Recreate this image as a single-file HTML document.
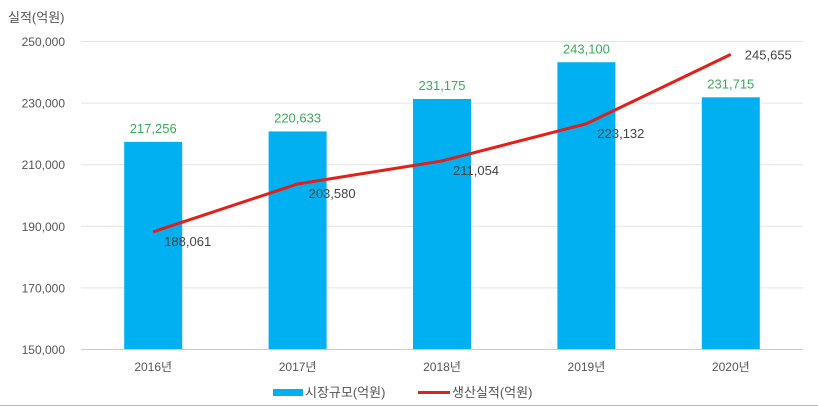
<!DOCTYPE html>
<html><head><meta charset="utf-8"><style>
body{margin:0;background:#fff;}
svg{display:block;font-family:"Liberation Sans","Noto Sans CJK KR",sans-serif;}
</style></head><body>
<svg width="818" height="407">
<rect x="0" y="0" width="818" height="407" fill="#fff"/>
<line x1="0" y1="405.5" x2="818" y2="405.5" stroke="#bbb"/>
<text x="8" y="22" font-size="13" fill="#555">실적(억원)</text>
<g id="grid"></g><g id="bars"></g><g id="line"></g><g id="labels"></g>
<g>
<rect x="273" y="389" width="30" height="7" fill="#00b0f0"/>
<text x="305" y="397" font-size="13" fill="#555">시장규모(억원)</text>
<line x1="418" y1="392.5" x2="450" y2="392.5" stroke="#e0201b" stroke-width="3"/>
<text x="452" y="397" font-size="13" fill="#555">생산실적(억원)</text>
</g>
</svg>
<script>
const categories=["2016년","2017년","2018년","2019년","2020년"];
const marketValues=[217256,220633,231175,243100,231715];
const productionValues=[188061,203580,211054,223132,245655];
const yTicks=[150000,170000,190000,210000,230000,250000];
const NS="http://www.w3.org/2000/svg";
const x0=81,x1=803,yB=349,yT=41,vmin=150000,vmax=250000;
const y=v=>yB-(v-vmin)/(vmax-vmin)*(yB-yT);
const step=(x1-x0)/categories.length;
const xc=i=>x0+step*(i+0.5);
const fmt=v=>v.toLocaleString("en-US");
function mk(p,tag,attrs,txt){const e=document.createElementNS(NS,tag);for(const k in attrs)e.setAttribute(k,attrs[k]);if(txt!=null)e.textContent=txt;document.getElementById(p).appendChild(e);return e;}
yTicks.forEach(t=>{
 const l=mk("grid","line",{x1:x0,x2:x1,y1:y(t)+0.5,y2:y(t)+0.5,stroke:t===vmin?"#ccc":"#e3e3e3"});
 
 
 const tx=mk("grid","text",{x:65,y:y(t)+5,"text-anchor":"end","font-size":"12",fill:"#555"},fmt(t));
 
 
});
categories.forEach((c,i)=>{
 const tx=mk("grid","text",{x:xc(i),y:371,"text-anchor":"middle","font-size":"12",fill:"#555"},c);
 
 
 const b=mk("bars","rect",{x:xc(i)-29,y:y(marketValues[i]),width:58,height:yB-y(marketValues[i]),fill:"#00b0f0"});
 
 
 const bl=mk("labels","text",{x:xc(i),y:y(marketValues[i])-9,"text-anchor":"middle","font-size":"13",fill:"#3aaa5c"},fmt(marketValues[i]));
 
 
 const last=i===categories.length-1;
 const pl=mk("labels","text",{x:xc(i)+(last?14:11),y:y(productionValues[i])+(last?5:14),"font-size":"13",fill:"#444"},fmt(productionValues[i]));
 
 
});
const pts=productionValues.map((v,i)=>xc(i)+","+y(v)).join(" ");
const pl=mk("line","polyline",{points:pts,fill:"none",stroke:"#e0201b","stroke-width":"3","stroke-linejoin":"round"});


</script>
</body></html>
